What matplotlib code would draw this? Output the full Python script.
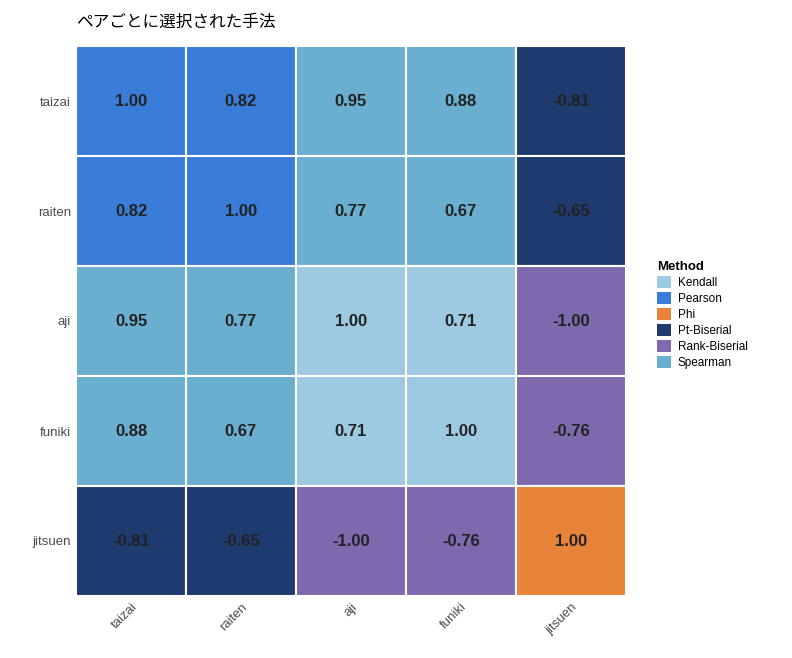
import matplotlib
matplotlib.use("Agg")
import matplotlib.pyplot as plt
from matplotlib.patches import Rectangle, Patch
import numpy as np

plt.rcParams["font.family"] = ["Liberation Sans", "DejaVu Sans"]

variables = ["taizai", "raiten", "aji", "funiki", "jitsuen"]
values = np.array([
    [1.00, 0.82, 0.95, 0.88, -0.81],
    [0.82, 1.00, 0.77, 0.67, -0.65],
    [0.95, 0.77, 1.00, 0.71, -1.00],
    [0.88, 0.67, 0.71, 1.00, -0.76],
    [-0.81, -0.65, -1.00, -0.76, 1.00],
])
methods = [
    ["Pearson", "Pearson", "Spearman", "Spearman", "Pt-Biserial"],
    ["Pearson", "Pearson", "Spearman", "Spearman", "Pt-Biserial"],
    ["Spearman", "Spearman", "Kendall", "Kendall", "Rank-Biserial"],
    ["Spearman", "Spearman", "Kendall", "Kendall", "Rank-Biserial"],
    ["Pt-Biserial", "Pt-Biserial", "Rank-Biserial", "Rank-Biserial", "Phi"],
]
method_colors = {
    "Kendall": "#9ecae1",
    "Pearson": "#3a7dd8",
    "Phi": "#e8833a",
    "Pt-Biserial": "#1f3a6e",
    "Rank-Biserial": "#7e68ae",
    "Spearman": "#6aaed0",
}

fig = plt.figure(figsize=(7.92, 6.58), dpi=100)
ax = fig.add_axes([76 / 792, 1 - 596 / 658, 550 / 792, 550 / 658])
n = len(variables)
for i in range(n):
    for j in range(n):
        y = n - 1 - i
        ax.add_patch(Rectangle((j, y), 1, 1, facecolor=method_colors[methods[i][j]],
                               edgecolor="white", lw=1.5))
        ax.text(j + 0.5, y + 0.5, f"{values[i][j]:.2f}", ha="center", va="center",
                fontsize=12, fontweight="bold", color="#222222")
ax.set_xlim(0, n)
ax.set_ylim(0, n)
ax.set_xticks(np.arange(n) + 0.5)
ax.set_xticklabels(variables, rotation=45, ha="right", rotation_mode="anchor",
                   fontsize=9.5, color="#4d4d4d")
ax.set_yticks(np.arange(n) + 0.5)
ax.set_yticklabels(variables[::-1], fontsize=9.5, color="#4d4d4d")
ax.tick_params(length=0)
for s in ax.spines.values():
    s.set_visible(False)

fig.text(76 / 792, 1 - 22 / 658, "ペアごとに選択された手法", fontsize=12,
         family=["Noto Sans CJK JP", "DejaVu Sans"], va="center")

handles = [Patch(facecolor=c, label=m) for m, c in method_colors.items()]
leg = fig.legend(handles=handles, title="Method", loc="upper left",
                 bbox_to_anchor=(646 / 792, 1 - 250 / 658), frameon=False,
                 fontsize=8.5, title_fontsize=9.5, handlelength=1.2, handleheight=1.2,
                 labelspacing=0.25, handletextpad=0.6)
leg.get_title().set_fontweight("bold")
leg._legend_box.align = "left"

fig.savefig("out.png", dpi=100)
